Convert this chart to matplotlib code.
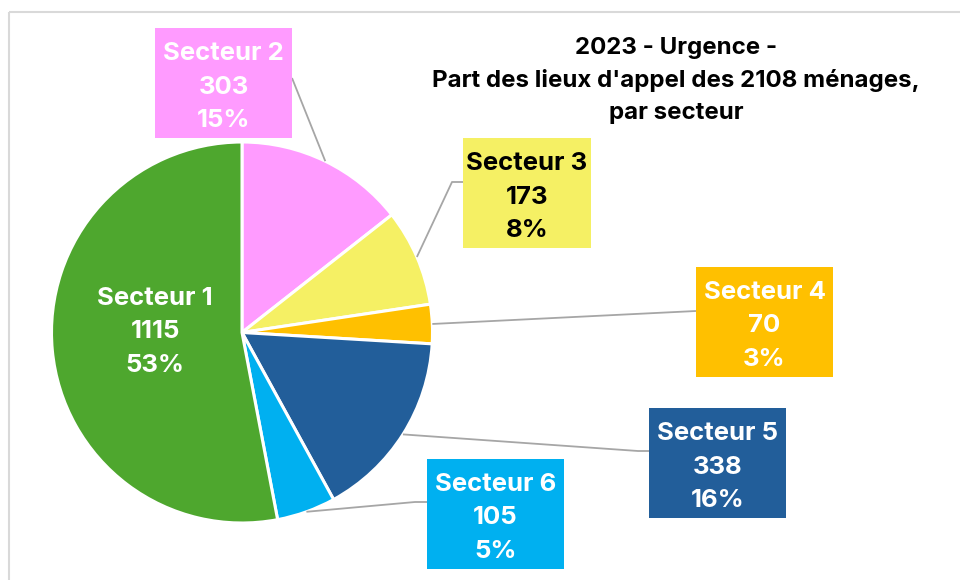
import matplotlib
matplotlib.use('Agg')
import matplotlib.pyplot as plt
from matplotlib.patches import Rectangle
import numpy as np

categories = ['Secteur 1', 'Secteur 2', 'Secteur 3', 'Secteur 4', 'Secteur 5', 'Secteur 6']
values = [1115, 303, 173, 70, 338, 105]
pct_labels = ['53%', '15%', '8%', '3%', '16%', '5%']
colors = ['#4EA72E', '#FF9BFF', '#F5F064', '#FFC000', '#225E9A', '#00B0F0']
text_colors = ['white', 'white', 'black', 'white', 'white', 'white']
draw_order = [1, 2, 3, 4, 5, 0]
title_lines = ['2023 - Urgence -', "Part des lieux d'appel des 2108 ménages,", 'par secteur']

W, H = 960, 580
FONT = 'Inter'
fig = plt.figure(figsize=(9.6, 5.8), dpi=100)
ax = fig.add_axes([0, 0, 1, 1])

def py(y):
    return H - y

cx, cy, R = 242, py(332.5), 190.5
wedges, _ = ax.pie([values[i] for i in draw_order],
                   colors=[colors[i] for i in draw_order],
                   startangle=90, counterclock=False, center=(cx, cy), radius=R,
                   wedgeprops=dict(edgecolor='white', linewidth=2.2))
ax.set_xlim(0, W)
ax.set_ylim(0, H)
ax.axis('off')

# chart border
ax.add_patch(Rectangle((9, py(12)), W, -H, fill=False, edgecolor='#D9D9D9', linewidth=1.5,
                       clip_on=False))

# label boxes (pixel layout: left, top, right, bottom) and leader paths
boxes = {
    1: (155, 28, 292, 138),
    2: (463, 138, 591, 248),
    3: (696, 267, 833, 377),
    4: (649, 408, 786, 518),
    5: (427, 459, 564, 569),
}
leaders = {
    1: [(292, 78)],
    2: [(452, 182), (463, 182)],
    3: [(696, 311)],
    4: [(638, 451), (649, 451)],
    5: [(415, 502), (427, 502)],
}

wedge_of = {cat: w for cat, w in zip(draw_order, wedges)}

fs = 18.5
for i in range(len(categories)):
    lines = [categories[i], str(values[i]), pct_labels[i]]
    if i in boxes:
        l, t, r, b = boxes[i]
        ax.add_patch(Rectangle((l, py(b)), r - l, b - t, facecolor=colors[i], edgecolor='none', zorder=3))
        tx, tyc = (l + r) / 2, (t + b) / 2 + 2
        w = wedge_of[i]
        mid = np.deg2rad((w.theta1 + w.theta2) / 2)
        ax_, ay_ = cx + R * np.cos(mid), cy + R * np.sin(mid)
        xs = [ax_] + [p[0] for p in leaders[i]]
        ys = [ay_] + [py(p[1]) for p in leaders[i]]
        ax.plot(xs, ys, color='#A6A6A6', linewidth=1.3, zorder=2, solid_capstyle='butt')
    else:
        tx, tyc = 155, 330
    for k, s in enumerate(lines):
        ax.text(tx, py(tyc + 2 + (k - 1) * 33.5), s, ha='center', va='center', fontsize=fs,
                fontweight='bold', color=text_colors[i], family=FONT, zorder=4)

for k, s in enumerate(title_lines):
    ax.text(676, py(48 + k * 32.5), s, ha='center', va='center', fontsize=17.3,
            fontweight='bold', color='black', family=FONT)

fig.savefig('out.png', dpi=100)
